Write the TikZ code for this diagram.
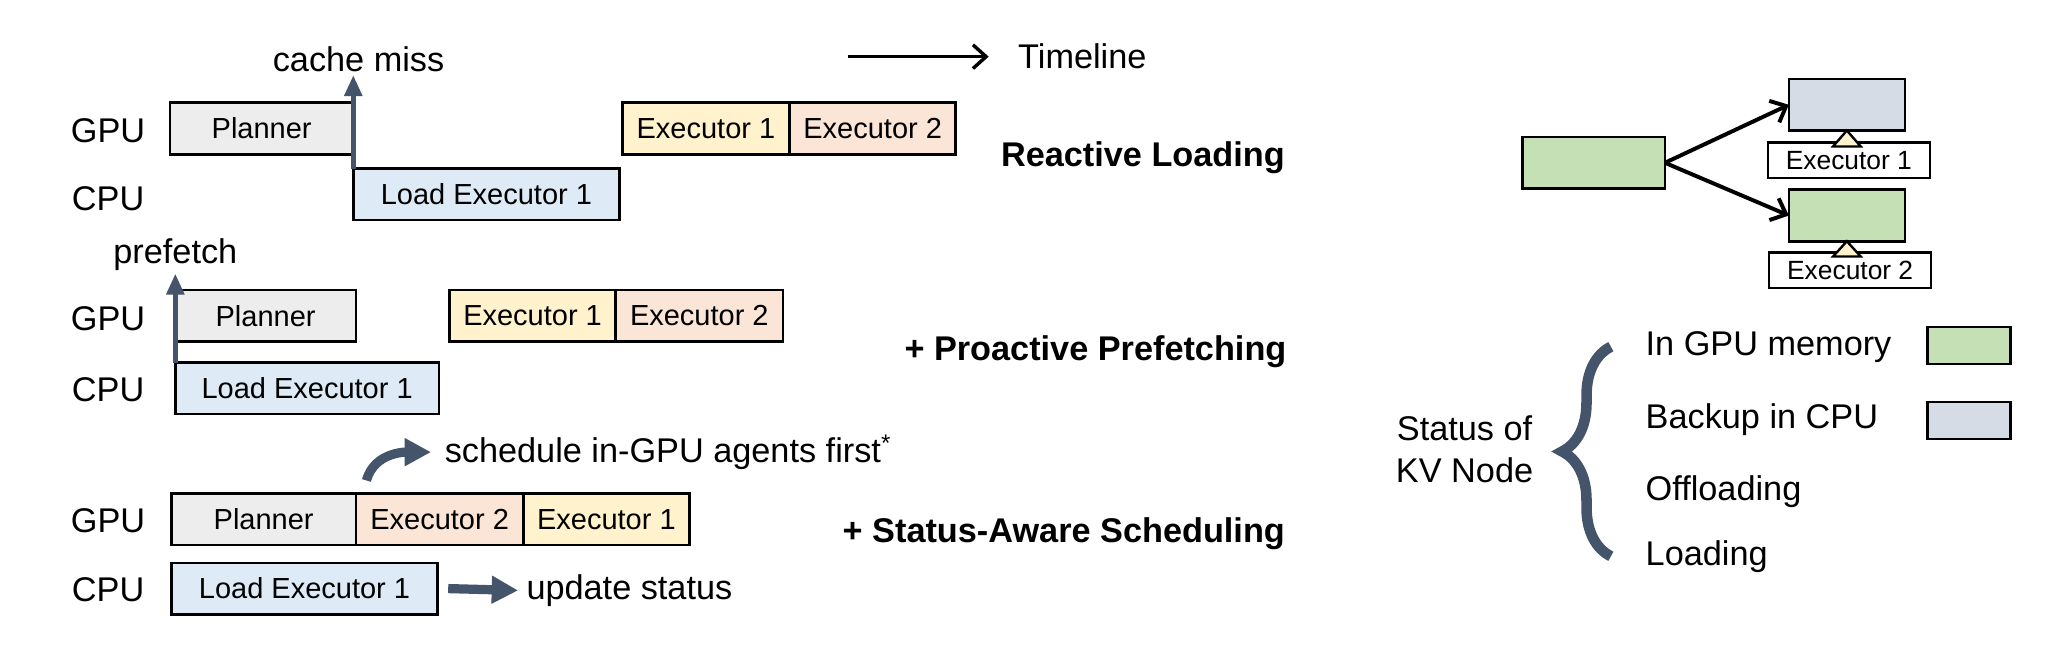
\documentclass[tikz,border=0pt]{standalone}
\usepackage{fontspec}
\setmainfont{Liberation Sans}
\usetikzlibrary{arrows.meta,positioning,decorations.pathreplacing}
\definecolor{plancolor}{RGB}{237,237,237}
\definecolor{loadcolor}{RGB}{222,235,247}
\definecolor{exonecolor}{RGB}{255,242,204}
\definecolor{extwocolor}{RGB}{251,229,214}
\definecolor{gpucolor}{RGB}{197,224,180}
\definecolor{cpucolor}{RGB}{214,220,229}
\definecolor{slate}{RGB}{68,84,106}

\begin{document}
\begin{tikzpicture}[
    x=0.5pt, y=-0.5pt,
    stage/.style={rectangle, draw, line width=1pt, outer sep=0pt, inner sep=0pt, minimum height=19.5pt, font=\fontsize{11}{13}\selectfont},
    lbl/.style={inner sep=1pt, font=\fontsize{13}{16}\selectfont},
    headline/.style={inner sep=1pt, font=\fontsize{13}{16}\selectfont\bfseries},
    hint/.style={-{Triangle[length=8pt,width=6.5pt]}, line width=2pt, draw=slate},
    bigarrow/.style={-{Triangle[length=10pt,width=10pt]}, line width=3.5pt, draw=slate},
    link/.style={-{Straight Barb[length=5pt,width=9pt]}, line width=1.5pt},
    chip/.style={rectangle, draw, line width=0.9pt, inner sep=0pt, minimum width=61.5pt, minimum height=13.5pt, font=\fontsize{10}{12}\selectfont},
    pin/.style={fill=exonecolor, line width=0.9pt, line join=miter}
]
\useasboundingbox (0,0) rectangle (1568,495.4);

% timeline
\node[lbl, anchor=west] (time) at (770,43) {Timeline};
\coordinate (tstart) at (643,43);
\draw[-{Straight Barb[length=5pt,width=9pt]}, line width=1.3pt] (tstart) -- ([xshift=-10pt]time.west);

% reactive loading
\node[stage, fill=plancolor, minimum width=69.5pt, anchor=west] (plan1) at (129,97.5) {Planner};
\node[stage, fill=loadcolor, minimum width=101pt, anchor=north west] (load1) at (268,128) {Load Executor 1};
\node[stage, fill=exonecolor, minimum width=63.5pt, anchor=west] (exa1) at (472,97.5) {Executor 1};
\node[stage, fill=extwocolor, minimum width=63pt, right=0pt of exa1] (exb1) {Executor 2};
\node[lbl] (gpu1) at (82,99) {GPU};
\node[lbl] (cpu1) at (82,151) {CPU};
\node[lbl] (miss) at (272,45) {cache miss};
\node[headline] (reactive) at (867,120) {Reactive Loading};
\draw[hint] (load1.north west) -- (load1.north west |- miss.south);

% proactive prefetching
\node[stage, fill=plancolor, minimum width=68.5pt, anchor=west] (plan2) at (133,239.5) {Planner};
\node[stage, fill=loadcolor, minimum width=100pt, anchor=north west] (load2) at (133,275) {Load Executor 1};
\node[stage, fill=exonecolor, minimum width=63pt, anchor=west] (exa2) at (341,239.5) {Executor 1};
\node[stage, fill=extwocolor, minimum width=63.5pt, right=0pt of exa2] (exb2) {Executor 2};
\node[lbl] (gpu2) at (82,242) {GPU};
\node[lbl] (cpu2) at (82,296) {CPU};
\node[lbl] (pre) at (133,193) {prefetch};
\node[headline] (proactive) at (831,267) {+ Proactive Prefetching};
\draw[hint] (load2.north west) -- (load2.north west |- pre.south);

% status-aware scheduling
\node[stage, fill=plancolor, minimum width=70pt, anchor=west] (plan3) at (130,394) {Planner};
\node[stage, fill=extwocolor, minimum width=63.5pt, right=0pt of plan3] (exb3) {Executor 2};
\node[stage, fill=exonecolor, minimum width=63pt, right=0pt of exb3] (exa3) {Executor 1};
\node[stage, fill=loadcolor, minimum width=101pt, anchor=west] (load3) at (130,446.5) {Load Executor 1};
\node[lbl] (gpu3) at (82,395) {GPU};
\node[lbl] (cpu3) at (82,447) {CPU};
\node[lbl, anchor=west] (upd) at (397,448) {update status};
\node[lbl, anchor=west] (sched) at (335,343) {schedule in-GPU agents first\textsuperscript{*}};
\node[headline] (aware) at (807,405) {+ Status-Aware Scheduling};
\draw[bigarrow, shorten >=2pt] ([xshift=4pt]load3.east) -- (upd.west);
\draw[bigarrow, shorten >=4pt] ([xshift=4pt,yshift=5pt]exb3.north west) to[out=75,in=180] (sched.west);

% kv tree
\node[stage, fill=gpucolor, minimum width=54pt] (root) at (1209,123.5) {};
\node[stage, fill=cpucolor, minimum width=44pt] (kvup) at (1401,79.5) {};
\node[stage, fill=gpucolor, minimum width=44pt] (kvdn) at (1401,163.5) {};
\node[chip] (chip1) at (1402.5,121.5) {Executor 1};
\node[chip] (chip2) at (1403.5,205) {Executor 2};
\coordinate (base1) at (chip1.north -| kvup.south);
\coordinate (base2) at (chip2.north -| kvdn.south);
\draw[pin] ([xshift=-5.25pt,yshift=-2pt]base1) -- (kvup.south) -- ([xshift=5.25pt,yshift=-2pt]base1) -- cycle;
\draw[pin] ([xshift=-5.25pt,yshift=-2pt]base2) -- (kvdn.south) -- ([xshift=5.25pt,yshift=-2pt]base2) -- cycle;
\draw[link] (root.east) -- (kvup.west);
\draw[link] (root.east) -- (kvdn.west);

% legend
\node[lbl, align=center] (kvstat) at (1111,341) {Status of\\KV Node};
\node[lbl, anchor=west] (gm) at (1246,263) {In GPU memory};
\node[lbl, anchor=west] (bc) at (1246,318) {Backup in CPU};
\node[lbl, anchor=west] (off) at (1246,373) {Offloading};
\node[lbl, anchor=west] (ld) at (1246,422) {Loading};
\node[stage, fill=gpucolor, minimum width=31.5pt, minimum height=14pt] (swg) at (1493.5,262) {};
\node[stage, fill=cpucolor, minimum width=31.5pt, minimum height=14pt] (swc) at (1493.5,319) {};
\draw[slate, line width=4pt, decorate, decoration={brace, amplitude=18.5pt}] ([xshift=-12pt]ld.west) -- ([xshift=-12pt]gm.west);
\end{tikzpicture}
\end{document}
